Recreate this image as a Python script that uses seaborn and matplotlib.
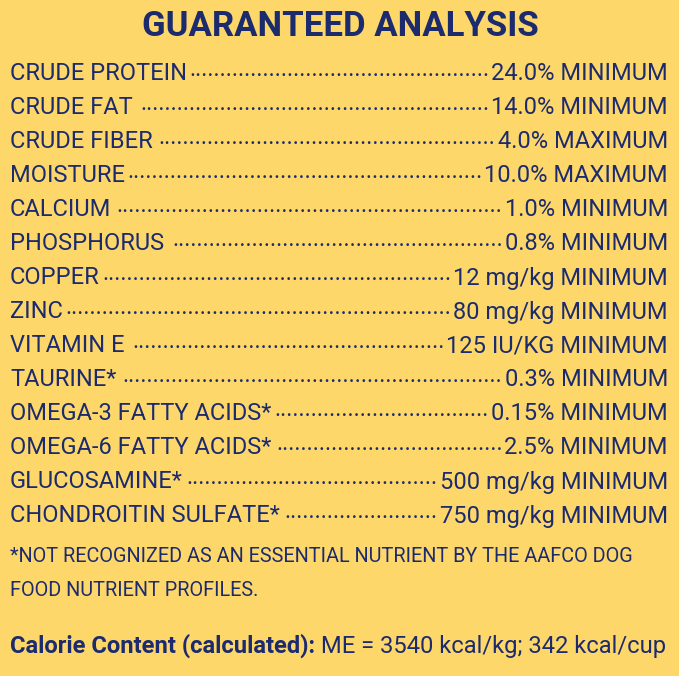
import matplotlib
matplotlib.use("Agg")
import matplotlib.pyplot as plt
import seaborn as sns

nutrients = ["CRUDE PROTEIN", "CRUDE FAT", "CRUDE FIBER", "MOISTURE", "CALCIUM",
             "PHOSPHORUS", "COPPER", "ZINC", "VITAMIN E", "TAURINE*",
             "OMEGA-3 FATTY ACIDS*", "OMEGA-6 FATTY ACIDS*", "GLUCOSAMINE*",
             "CHONDROITIN SULFATE*"]
amounts = ["24.0% MINIMUM", "14.0% MINIMUM", "4.0% MAXIMUM", "10.0% MAXIMUM",
           "1.0% MINIMUM", "0.8% MINIMUM", "12 mg/kg MINIMUM", "80 mg/kg MINIMUM",
           "125 IU/KG MINIMUM", "0.3% MINIMUM", "0.15% MINIMUM", "2.5% MINIMUM",
           "500 mg/kg MINIMUM", "750 mg/kg MINIMUM"]
title = "GUARANTEED ANALYSIS"
footnote = ["*NOT RECOGNIZED AS AN ESSENTIAL NUTRIENT BY THE AAFCO DOG",
            "FOOD NUTRIENT PROFILES."]
calorie_head = "Calorie Content (calculated):"
calorie_text = " ME = 3540 kcal/kg; 342 kcal/cup"

sns.set_style("white")
plt.rcParams['font.family'] = ['Roboto', 'DejaVu Sans']
bg = "#fdd76a"
navy = "#1c2b6e"

fig = plt.figure(figsize=(6.79, 6.76), dpi=100, facecolor=bg)
ax = fig.add_axes([0, 0, 1, 1])
ax.set_facecolor(bg)
ax.set_xlim(0, 679)
ax.set_ylim(676, 0)
ax.axis("off")
renderer = fig.canvas.get_renderer()
inv = ax.transData.inverted()


def width(t):
    e = t.get_window_extent(renderer)
    return inv.transform((e.x1, 0))[0] - inv.transform((e.x0, 0))[0]


ax.text(340, 26, title, ha="center", va="center", fontsize=25,
        fontweight="bold", color=navy)

fs = 17
probe = ax.text(0, 0, "." * 20, fontsize=fs)
dot_w = width(probe) / 20
probe.remove()
for i, (name, val) in enumerate(zip(nutrients, amounts)):
    y = 74 + i * 34
    t1 = ax.text(10, y, name, ha="left", va="center", fontsize=fs, color=navy)
    t2 = ax.text(668, y, val, ha="right", va="center", fontsize=fs, color=navy)
    x0 = 10 + width(t1) + 2
    x1 = 668 - width(t2) - 2
    n = max(int((x1 - x0) / dot_w), 0)
    ax.text(x1, y + 7, "." * n, ha="right", va="bottom", fontsize=fs, color=navy)

# footnote: fit first line to the reference's width
f1 = ax.text(10, 556, footnote[0], ha="left", va="center", fontsize=fs, color=navy)
ffs = fs * 627 / width(f1)
f1.set_fontsize(ffs)
ax.text(10, 590, footnote[1], ha="left", va="center", fontsize=ffs, color=navy)

cfs = 18
th = ax.text(10, 646, calorie_head, ha="left", va="center", fontsize=cfs,
             fontweight="bold", color=navy)
tt = ax.text(0, 646, calorie_text, ha="left", va="center", fontsize=cfs, color=navy)
scale = 658 / (width(th) + width(tt))
th.set_fontsize(cfs * scale)
tt.set_fontsize(cfs * scale)
tt.set_x(10 + width(th))

fig.savefig("out.png", dpi=100, facecolor=bg)
